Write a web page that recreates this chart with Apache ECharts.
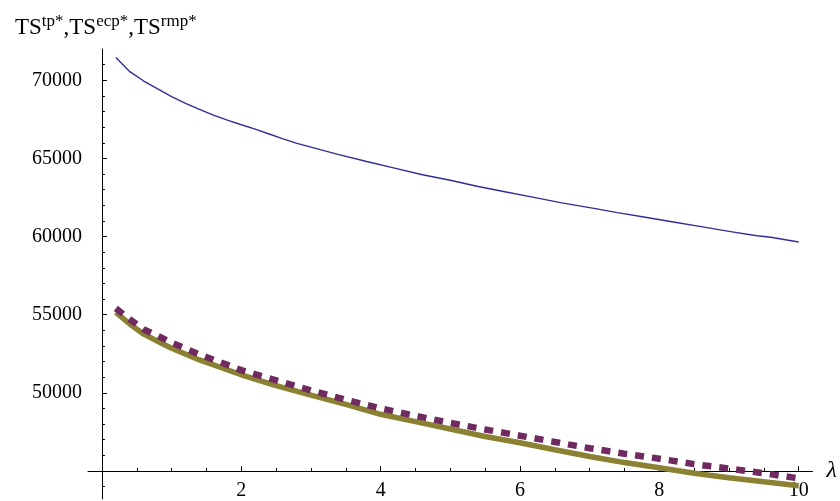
<!DOCTYPE html>
<html>
<head>
<meta charset="utf-8">
<script src="https://cdn.jsdelivr.net/npm/echarts@6/dist/echarts.min.js"></script>
<style>
  html, body { margin: 0; padding: 0; background: #fff; }
  #chart { width: 840px; height: 501px; }
</style>
</head>
<body>
<div id="chart"></div>
<script>
      // data
      var lambdaTp = [0.2, 0.4, 0.6, 0.8, 1.0, 1.2, 1.4, 1.6, 1.8, 2.0, 2.2, 2.4, 2.6, 2.8, 3.0, 3.4, 3.8, 4.2, 4.6, 5.0, 5.4, 5.8, 6.2, 6.6, 7.0, 7.4, 7.8, 8.2, 8.6, 9.0, 9.4, 9.6, 10.0];
      var tsTp = [71450, 70550, 69950, 69450, 68950, 68520, 68130, 67770, 67450, 67150, 66870, 66560, 66250, 65960, 65720, 65240, 64800, 64380, 63950, 63600, 63200, 62850, 62500, 62150, 61850, 61530, 61230, 60930, 60630, 60330, 60050, 59950, 59650];

      var lambdaLow = [0.2, 0.4, 0.6, 0.8, 1.0, 1.4, 2.0, 2.5, 3.0, 3.5, 4.0, 4.5, 5.0, 5.5, 6.0, 6.5, 7.0, 7.5, 8.0, 8.5, 9.0, 9.5, 10.0];
      var tsEcp = [55150, 54400, 53750, 53300, 52850, 52100, 51150, 50450, 49850, 49250, 48620, 48150, 47680, 47200, 46800, 46350, 45920, 45530, 45200, 44850, 44560, 44300, 44050];
      var tsRmp = [55400, 54700, 54050, 53650, 53200, 52450, 51450, 50800, 50150, 49550, 49000, 48520, 48070, 47650, 47250, 46850, 46450, 46100, 45780, 45430, 45150, 44850, 44520];

      // tick values
      var xMajorTicks = [2, 4, 6, 8, 10];
      var xMinorTicks = [0.5, 1, 1.5, 2.5, 3, 3.5, 4.5, 5, 5.5, 6.5, 7, 7.5, 8.5, 9, 9.5];
      var yMajorTicks = [45000, 50000, 55000, 60000, 65000, 70000];
      var yLabels = [50000, 55000, 60000, 65000, 70000];
      var yMinorTicks = [44000, 46000, 47000, 48000, 49000, 51000, 52000, 53000, 54000, 56000, 57000, 58000, 59000, 61000, 62000, 63000, 64000, 66000, 67000, 68000, 69000, 71000];

      function pairs(xs, ys) {
          return xs.map(function (x, i) { return [x, ys[i]]; });
      }

      var font = 'Liberation Serif';
      var xMin = -0.2, xMax = 10.2, yMin = 43200, yMax = 72000;

      var myChart = echarts.init(document.getElementById('chart'));

      var option = {
          animation: false,
          backgroundColor: '#fff',
          title: {
              left: 10,
              top: 4,
              text: '{b|TS}{s|tp*}{b|,TS}{s|ecp*}{b|,TS}{s|rmp*}',
              textStyle: {
                  fontWeight: 'normal',
                  rich: {
                      b: { fontFamily: font, fontSize: 23, fontWeight: 'normal', color: '#000', lineHeight: 30, verticalAlign: 'bottom' },
                      s: { fontFamily: font, fontSize: 17, fontWeight: 'normal', color: '#000', lineHeight: 30, verticalAlign: 'bottom', padding: [0, 0, 9, 0] }
                  }
              }
          },
          grid: { left: 88, right: 23, top: 49, bottom: 0 },
          xAxis: [{
              type: 'value', min: xMin, max: xMax, position: 'bottom', offset: -28,
              name: 'λ', nameLocation: 'end', nameGap: 14,
              nameTextStyle: { fontFamily: font, fontSize: 24, fontStyle: 'italic', color: '#000', verticalAlign: 'middle' },
              splitLine: { show: false },
              axisLine: { lineStyle: { color: '#000', width: 1 } },
              axisTick: { inside: true, length: 5, customValues: xMajorTicks, lineStyle: { color: '#000' } },
              axisLabel: { customValues: xMajorTicks, margin: 10, fontFamily: font, fontSize: 20, color: '#000' }
          }, {
              type: 'value', min: xMin, max: xMax, position: 'bottom', offset: -28,
              splitLine: { show: false },
              axisLine: { show: false },
              axisTick: { inside: true, length: 3, customValues: xMinorTicks, lineStyle: { color: '#000' } },
              axisLabel: { show: false }
          }],
          yAxis: [{
              type: 'value', min: yMin, max: yMax, position: 'left',
              splitLine: { show: false },
              axisLine: { show: true, lineStyle: { color: '#000', width: 1 } },
              axisTick: { show: true, inside: true, length: 5, customValues: yMajorTicks, lineStyle: { color: '#000' } },
              axisLabel: {
                  customValues: yLabels, margin: 6, fontFamily: font, fontSize: 20, color: '#000',
                  formatter: function (v) { return String(v); }
              }
          }, {
              type: 'value', min: yMin, max: yMax, position: 'left',
              splitLine: { show: false },
              axisLine: { show: false },
              axisTick: { show: true, inside: true, length: 3, customValues: yMinorTicks, lineStyle: { color: '#000' } },
              axisLabel: { show: false }
          }],
          series: [{
              name: 'TS tp*',
              type: 'line',
              data: pairs(lambdaTp, tsTp),
              showSymbol: false,
              lineStyle: { color: '#2f2f95', width: 1.4 }
          }, {
              name: 'TS ecp*',
              type: 'line',
              data: pairs(lambdaLow, tsEcp),
              showSymbol: false,
              lineStyle: { color: '#8a8232', width: 5.5 }
          }, {
              name: 'TS rmp*',
              type: 'line',
              data: pairs(lambdaLow, tsRmp),
              showSymbol: false,
              lineStyle: { color: '#6f2a5f', width: 6.5, type: [9, 8], cap: 'butt' }
          }]
      };

      myChart.setOption(option);
</script>
</body>
</html>
